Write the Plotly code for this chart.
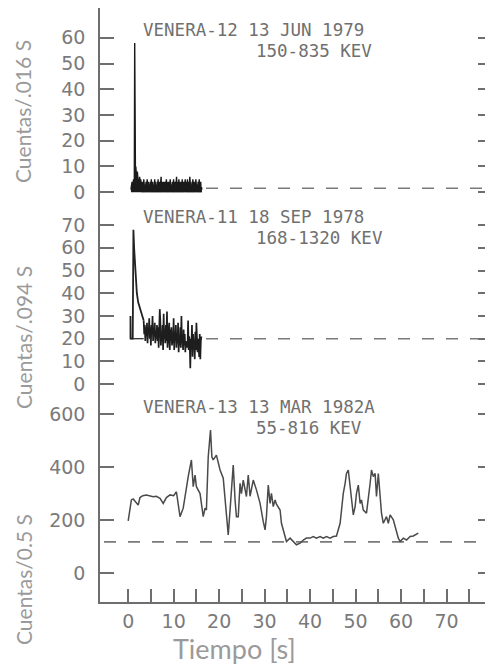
import numpy as np
import plotly.graph_objects as go

# ---------------- data ----------------
# Venera-12, 13 Jun 1979, counts / .016 s (0.6 s .. 16.2 s)
v12_start, v12_end = 0.6, 16.2
v12_counts = [1, 3, 2, 4, 1, 3, 2, 5, 3, 4,
              58,
              9, 6, 10, 4, 7, 3, 8, 5, 6, 3, 5, 2, 6, 4, 3, 5, 2, 4,
              0, 4, 1, 3, 0, 5, 2, 4, 0, 3, 1, 4, 0, 2, 5, 1, 3, 0, 4, 2,
              1, 3, 0, 4, 2, 5, 0, 3, 1, 4, 0, 2, 3, 0, 5, 1, 4, 0, 3, 2,
              0, 4, 1, 5, 0, 3, 2, 4, 0, 3, 1, 6, 0, 2, 4, 1, 3, 0, 4, 1,
              2, 4, 0, 3, 1, 5, 0, 4, 2, 3, 0, 4, 1, 3, 0, 5, 2, 4, 0, 3,
              1, 4, 0, 2, 5, 0, 3, 1, 4, 0, 3, 2, 6, 0, 4, 1, 3, 0, 5, 2,
              0, 4, 1, 3, 0, 4, 2, 5, 0, 3, 1, 4, 0, 3, 2, 5, 1, 4, 0, 3,
              2, 5, 0, 4, 1, 3, 0, 6, 1, 4, 0, 3, 2, 4, 0, 5, 1, 3, 0, 4,
              1, 3, 0, 5, 2, 4, 0, 3, 1, 4, 0, 2, 5, 0, 3, 1, 4, 0, 2, 1]
v12_background = 1.5

# Venera-11, 18 Sep 1978, counts / .094 s
v11_peak_t = [0.5, 0.5, 0.55, 1.0, 1.15, 1.3, 1.6, 1.9, 2.2, 2.5, 2.8, 3.1, 3.4]
v11_peak_v = [20, 30, 20, 20, 68, 60, 47, 40, 36, 34, 33, 31, 28]
v11_base_t = [0.5, 3.4]
v11_base_v = [20, 20]
v11_tail_start, v11_tail_end = 3.4, 16.1
v11_tail = [28, 22, 26, 19, 25, 21, 27, 18, 24, 22,
            29, 20, 25, 17, 26, 22, 30, 19, 24, 21,
            27, 18, 23, 20, 26, 19, 25, 16, 24, 33,
            28, 17, 22, 19, 26, 15, 31, 20, 23, 18,
            26, 19, 32, 16, 22, 20, 27, 15, 24, 19,
            25, 17, 21, 18, 29, 15, 23, 19, 26, 16,
            22, 18, 27, 14, 21, 17, 25, 16, 30, 18,
            20, 15, 24, 17, 22, 14, 19, 16, 18, 16,
            28, 15, 21, 17, 7, 20, 16, 26, 12, 22,
            17, 19, 11, 23, 15, 27, 18, 14, 20, 17,
            12, 22, 11, 19, 21]
v11_background = 20

# Venera-13, 13 Mar 1982A, counts / 0.5 s
v13_t = [0, 0.7, 1.1, 1.5, 2.2, 2.6, 3.2, 4.0, 4.8, 5.5, 6.2, 7.0, 7.7, 8.4, 9.2,
         10.0, 10.6, 11.4, 12.1, 12.8, 13.2, 13.9, 14.3, 14.7, 15.0, 15.8, 16.1,
         16.5, 16.9, 17.2, 17.6, 18.1, 18.4, 18.7, 19.4, 19.8, 20.2, 20.9, 21.3,
         21.6, 22.0, 22.4, 22.7, 23.1, 23.5, 23.8, 24.2, 24.6, 24.9, 25.3, 26.0,
         26.4, 26.8, 27.5, 28.2, 29.0, 29.7, 30.1, 30.4, 30.8, 31.2, 31.5, 31.9,
         32.3, 32.6, 33.4, 33.7, 34.1, 34.5, 34.8, 35.6, 36.3, 37.0, 37.8, 38.5,
         39.2, 40.0, 40.7, 41.4, 42.2, 42.9, 43.6, 44.4, 45.1, 45.8, 46.6, 46.9,
         47.3, 47.7, 48.0, 48.4, 48.8, 49.1, 49.5, 49.9, 50.2, 50.6, 51.0, 51.3,
         51.7, 52.4, 52.8, 53.2, 53.5, 53.9, 54.3, 54.6, 55.0, 55.4, 55.7, 56.1,
         56.8, 57.2, 57.6, 58.3, 58.7, 59.0, 59.4, 59.8, 60.5, 61.2, 62.0, 62.7, 63.8]
v13_v = [197, 276, 280, 270, 257, 285, 292, 295, 290, 288, 290, 282, 263, 285, 295,
         292, 307, 213, 245, 326, 364, 427, 326, 370, 326, 300, 257,
         213, 245, 238, 439, 540, 439, 427, 445, 420, 389, 358, 276,
         201, 144, 238, 314, 408, 276, 213, 213, 339, 300, 351, 289,
         370, 290, 351, 314, 263, 194, 163, 213, 332, 263, 301, 251,
         276, 260, 238, 188, 163, 138, 119, 132, 119, 107, 113, 125,
         132, 132, 138, 132, 138, 132, 138, 132, 138, 140, 188, 238,
         301, 339, 376, 389, 326, 263, 220, 251, 301, 332, 263, 276,
         238, 226, 276, 339, 389, 364, 376, 289, 376, 276, 226, 188,
         213, 188, 220, 201, 176, 151, 132, 119, 132, 125, 138, 140, 151]
v13_background = 118

x_ticks = list(range(0, 80, 5))
x_labels = [str(v) if v % 10 == 0 else "" for v in x_ticks]
y1_ticks = [0, 10, 20, 30, 40, 50, 60]
y2_ticks = [0, 10, 20, 30, 40, 50, 60, 70]
y3_ticks = [0, 200, 400, 600]

labels = [
    ("VENERA-12 13 JUN 1979", "150-835 KEV"),
    ("VENERA-11 18 SEP 1978", "168-1320 KEV"),
    ("VENERA-13 13 MAR 1982A", "55-816 KEV"),
]
y_titles = ["Cuentas/.016 S", "Cuentas/.094 S", "Cuentas/0.5 S"]
x_title = "Tiempo [s]"

# ---------------- layout geometry ----------------
# The page body adds an 8 px offset; coordinates below are window pixels.
OFF = 8
W, H = 493 - OFF, 669 - OFF
PLOT_L, PLOT_R, PLOT_T, PLOT_B = 100, 492, 8, 602
ML, MT = PLOT_L - OFF, PLOT_T - OFF
MR = W - (PLOT_R - OFF)
MB = H - (PLOT_B - OFF)
PW, PH = PLOT_R - PLOT_L, PLOT_B - PLOT_T


def fx(px):
    return (px - PLOT_L) / PW


def fy(py):
    return 1 - (py - PLOT_T) / PH


FRAME = "#6e6e6e"
TICKFONT = dict(family="DejaVu Sans", size=19, color="#7a7a7a")
MONO = dict(family="DejaVu Sans Mono", size=17.5, color="#707070")
SANS = dict(family="Lato", color="#9a9a9a")

fig = go.Figure()

v12_t = np.linspace(v12_start, v12_end, len(v12_counts))
fig.add_trace(go.Scatter(x=v12_t, y=v12_counts, mode="lines", xaxis="x", yaxis="y",
                         line=dict(color="#1a1a1a", width=1.4), fill="tozeroy",
                         fillcolor="#1a1a1a", showlegend=False))

fig.add_trace(go.Scatter(x=v11_base_t, y=v11_base_v, mode="lines", xaxis="x", yaxis="y2",
                         line=dict(color="#333", width=1.3), showlegend=False))
fig.add_trace(go.Scatter(x=v11_peak_t, y=v11_peak_v, mode="lines", xaxis="x", yaxis="y2",
                         line=dict(color="#222", width=1.8), showlegend=False))
v11_tail_t = np.linspace(v11_tail_start, v11_tail_end, len(v11_tail))
fig.add_trace(go.Scatter(x=v11_tail_t, y=v11_tail, mode="lines", xaxis="x", yaxis="y2",
                         line=dict(color="#1e1e1e", width=1.7), showlegend=False))

fig.add_trace(go.Scatter(x=v13_t, y=v13_v, mode="lines", xaxis="x", yaxis="y3",
                         line=dict(color="#4a4a4a", width=1.5), showlegend=False))

# background (dashed) levels
dash = "12px,12px"
for yref, lvl, x0 in (("y", v12_background, fx(206)), ("y2", v11_background, fx(206)),
                      ("y3", v13_background, fx(104))):
    fig.add_shape(type="line", xref="paper", yref=yref, x0=x0, x1=1, y0=lvl, y1=lvl,
                  line=dict(color="#7a7a7a", width=1.6, dash=dash), layer="below")

# text labels in each panel
label_rows = [(30, 51), (217, 238), (407, 428)]
for (l1, l2), (r1, r2) in zip(labels, label_rows):
    fig.add_annotation(text=l1, xref="paper", yref="paper", x=fx(141), y=fy(r1),
                       xanchor="left", yanchor="middle", showarrow=False, font=MONO)
    fig.add_annotation(text=l2, xref="paper", yref="paper", x=fx(254), y=fy(r2),
                       xanchor="left", yanchor="middle", showarrow=False, font=MONO)

for t, cy in zip(y_titles, (112, 338, 580)):
    fig.add_annotation(text=t, xref="paper", yref="paper", x=fx(23), y=fy(cy),
                       xanchor="center", yanchor="middle", textangle=-90,
                       showarrow=False, font=dict(**SANS, size=21))

fig.add_annotation(text=x_title, xref="paper", yref="paper", x=fx(234), y=fy(648),
                   xanchor="center", yanchor="middle", showarrow=False,
                   font=dict(**SANS, size=27))

d1 = [fy(204), 1]
d2 = [fy(395), fy(204)]
d3 = [0, fy(395)]

yaxis_common = dict(anchor="x", showline=True, linecolor=FRAME, linewidth=1.5,
                    mirror="ticks", ticks="inside", ticklen=14, tickwidth=1.5,
                    tickcolor=FRAME, showgrid=False, zeroline=False,
                    tickfont=TICKFONT, ticklabelstandoff=9)

fig.update_layout(
    width=W, height=H,
    margin=dict(l=ML, r=MR, t=MT, b=MB),
    paper_bgcolor="white", plot_bgcolor="white",
    xaxis=dict(anchor="y3", range=[-6.2, 80], tickvals=x_ticks, ticktext=x_labels,
               ticks="inside", ticklen=13, tickwidth=1.5, tickcolor=FRAME,
               showline=True, linecolor=FRAME, linewidth=1.5, mirror=False,
               showgrid=False, zeroline=False, tickfont=TICKFONT, ticklabelstandoff=1),
    xaxis2=dict(overlaying="x", side="top", anchor="y", range=[-6.2, 80],
                tickvals=x_ticks, showticklabels=False, ticks="inside", ticklen=12,
                tickwidth=1.5, tickcolor=FRAME, showline=True, linecolor=FRAME,
                linewidth=1.5, showgrid=False, zeroline=False),
    yaxis=dict(domain=d1, range=[-4.6, 71.6], tickvals=y1_ticks, **yaxis_common),
    yaxis2=dict(domain=d2, range=[-4.8, 79.3], tickvals=y2_ticks, **yaxis_common),
    yaxis3=dict(domain=d3, range=[-109, 672], tickvals=y3_ticks, **yaxis_common),
)

fig.write_html("out.html")
